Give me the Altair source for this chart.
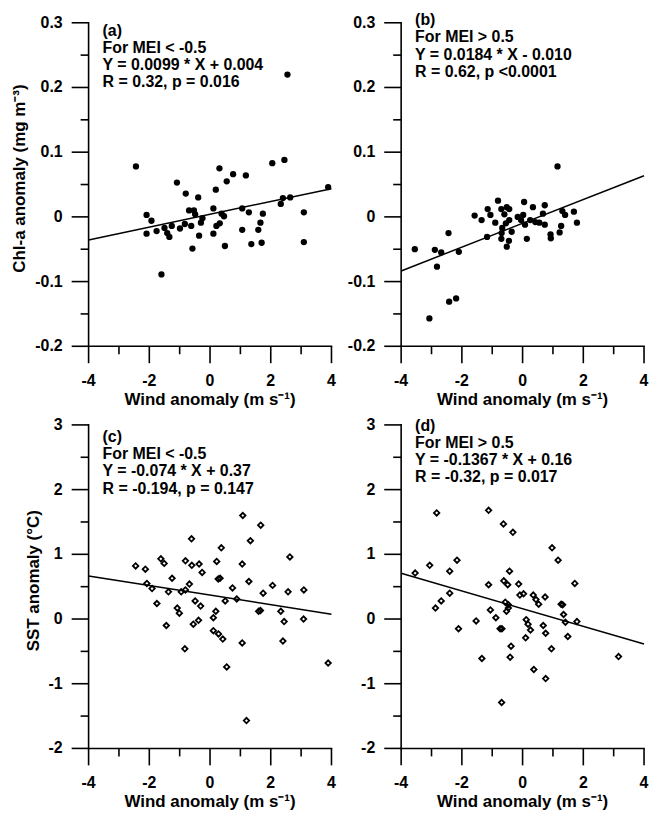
import altair as alt
import pandas as pd

FONT = "Liberation Sans"

# ---------------- data ----------------
a_x = [-2.44, -1.09, -0.80, -0.39, 0.31, 0.76, 0.55, 0.19, 1.18, 2.05, 2.45, 3.89,
       -2.09, -1.93, -2.09, -1.76, -1.50, -1.41, -1.34, -1.26, -1.60, -0.99, -0.83,
       -0.69, -0.53, -0.49, -0.62, -0.36, -0.58, -0.30, -0.25, 0.11, 0.11, 0.21, 0.32,
       0.38, 0.46, 0.49, 1.06, 1.06, 1.28, 1.36, 1.59, 1.66, 1.74, 1.70, 2.33, 2.40,
       2.64, 3.09, 3.09, 2.55]
a_y = [0.078, 0.053, 0.036, 0.030, 0.075, 0.066, 0.055, 0.042, 0.064, 0.083, 0.088, 0.046,
       0.003, -0.006, -0.026, -0.022, -0.017, -0.025, -0.031, -0.014, -0.089, -0.018, -0.011,
       0.010, 0.010, 0.004, -0.014, -0.029, -0.049, -0.009, -0.002, 0.013, -0.026, -0.014, -0.010,
       0.005, 0.001, -0.045, 0.013, -0.020, 0.007, -0.042, -0.020, -0.009, 0.005, -0.040, 0.020, 0.029,
       0.030, 0.007, -0.039, 0.220]

b_x = [1.15, -3.55, -2.89, -2.68, -2.82, -2.44, -2.10, -3.07, -2.42, -2.19, -1.58, -1.35,
       -1.15, -1.06, -0.90, -1.17, -0.81, -0.70, -0.60, -0.52, -0.44, -0.67, -0.69, -0.70,
       -0.52, -0.45, -0.55, -0.44, -0.36, -0.16, -0.05, 0.02, 0.05, 0.08, 0.14, 0.25, 0.34,
       0.42, 0.55, 0.73, 0.67, 0.73, 0.92, 0.93, 1.22, 1.27, 1.31, 1.40, 1.69, 1.79]
b_y = [0.078, -0.050, -0.051, -0.055, -0.077, -0.025, -0.054, -0.157, -0.131, -0.126, 0.002, -0.005,
       0.012, 0.003, -0.009, -0.031, 0.025, 0.012, 0.004, 0.015, 0.012, -0.017, -0.025, -0.034,
       -0.046, -0.037, -0.010, -0.005, -0.023, 0.000, -0.005, 0.003, 0.023, -0.012, -0.034, -0.005, 0.015,
       -0.008, -0.009, 0.018, 0.005, -0.012, -0.027, -0.033, -0.024, -0.014, 0.009, 0.003, 0.008, -0.009]

c_x = [1.08, 1.67, -0.61, 1.33, 0.37, 2.63, -1.62, -1.51, -2.45, -2.13, -0.81, -0.60,
       -0.36, -0.26, 0.22, 1.06, -1.25, 0.27, 0.33, 1.28, -2.08, -1.91, -0.68, -1.37,
       -0.95, -0.81, 0.74, 2.06, 1.75, 2.57, 3.09, -1.75, -1.08, -1.01, -0.49, -0.31,
       0.50, 0.88, 0.19, 0.11, 1.60, 1.66, 2.33, 2.44, 3.08, -1.44, -0.55, -0.38, 0.11,
       0.28, 0.42, 1.06, 2.40, -0.83, 0.55, 3.89, 1.20]
c_y = [1.60, 1.45, 1.24, 1.21, 1.10, 0.96, 0.93, 0.86, 0.82, 0.77, 0.90, 0.83,
       0.85, 0.72, 0.89, 0.85, 0.63, 0.62, 0.63, 0.58, 0.55, 0.47, 0.54, 0.42,
       0.42, 0.45, 0.48, 0.52, 0.40, 0.42, 0.45, 0.24, 0.17, 0.09, 0.28, 0.20,
       0.28, 0.31, 0.12, 0.02, 0.12, 0.13, 0.12, -0.04, 0.00, -0.10, -0.08, -0.02, -0.18,
       -0.23, -0.31, -0.37, -0.34, -0.46, -0.74, -0.68, -1.57]

d_x = [-2.83, -1.12, -0.63, -0.32, 0.97, 1.17, -2.16, -3.06, -2.40, -3.54, -0.43, 1.72,
       -1.12, -0.62, -0.49, -0.13, -2.40, -2.68, -2.87, -0.09, 0.03, 0.35, 0.44, 0.53,
       0.74, 1.27, 1.32, -0.57, -0.47, -0.53, -0.47, -1.06, -0.88, -1.53, -2.11, -0.74,
       -0.68, 0.12, 0.18, 0.26, 0.10, 0.68, 0.76, 1.35, 1.41, 1.49, 1.79, -0.38, -0.41,
       -1.34, 0.95, 0.37, 0.76, -0.69, 3.16]
d_y = [1.64, 1.68, 1.47, 1.34, 1.10, 0.91, 0.91, 0.83, 0.74, 0.71, 0.74, 0.55,
       0.53, 0.59, 0.53, 0.54, 0.40, 0.28, 0.17, 0.37, 0.39, 0.37, 0.30, 0.23,
       0.34, 0.23, 0.22, 0.26, 0.22, 0.12, 0.17, 0.14, 0.02, -0.03, -0.15, -0.15,
       -0.15, -0.01, -0.08, -0.17, -0.29, -0.10, -0.22, 0.07, -0.05, -0.27, -0.04, -0.42, -0.59,
       -0.61, -0.46, -0.78, -0.92, -1.29, -0.58]

# regression lines (endpoints at x = -4 and x = 4, from the printed equations)
line_x = [-4, 4]
a_line_y = [-0.0356, 0.0436]
b_line_y = [-0.0836, 0.0636]
c_line_y = [0.666, 0.074]
d_line_y = [0.7068, -0.3868]

a_text = ["(a)", "For MEI < -0.5", "Y = 0.0099 * X + 0.004", "R = 0.32, p = 0.016"]
b_text = ["(b)", "For MEI > 0.5", "Y = 0.0184 * X - 0.010", "R = 0.62, p <0.0001"]
c_text = ["(c)", "For MEI < -0.5", "Y = -0.074 * X + 0.37", "R = -0.194, p = 0.147"]
d_text = ["(d)", "For MEI > 0.5", "Y = -0.1367 * X + 0.16", "R = -0.32, p = 0.017"]

# axis ticks and tick labels
x_major_ticks = [-4, -2, 0, 2, 4]
x_major_labels = ["-4", "-2", "0", "2", "4"]
x_minor_ticks = [-3, -1, 1, 3]
chl_major = [-0.2, -0.1, 0, 0.1, 0.2, 0.3]
chl_labels = ["-0.2", "-0.1", "0", "0.1", "0.2", "0.3"]
chl_minor = [-0.15, -0.05, 0.05, 0.15, 0.25]
sst_major = [-2, -1, 0, 1, 2, 3]
sst_labels = ["-2", "-1", "0", "1", "2", "3"]
sst_minor = [-1.5, -0.5, 0.5, 1.5, 2.5]

X_TITLE = "Wind anomaly (m s\u207b\u00b9)"
CHL_TITLE = "Chl-a anomaly (mg m\u207b\u00b3)"
SST_TITLE = "SST anomaly (\u00b0C)"

W, H = 244, 325
MAJ, MIN = 17, 8     # tick lengths in pixels
SW = 1.6
XDOM = [-4, 4]


def stroke_sym(length, angle):
    # a straight line segment drawn as a "stroke" symbol of the given pixel length
    return dict(shape="stroke", size=length * length, angle=angle, filled=False,
                strokeWidth=SW, color="black", opacity=1)


def frame_layers(xsc, ysc, ymaj, ymin_ticks):
    one = pd.DataFrame({"k": [0]})
    xaxis = alt.Chart(one).mark_point(**stroke_sym(W + SW, 0)).encode(
        x=alt.value(W / 2), y=alt.value(H))
    yaxis = alt.Chart(one).mark_point(**stroke_sym(H + SW, 90)).encode(
        x=alt.value(0), y=alt.value(H / 2))
    xt_maj = alt.Chart(pd.DataFrame({"v": x_major_ticks})).mark_point(
        **stroke_sym(MAJ, 90)).encode(
        x=alt.X("v:Q", scale=xsc, axis=None), y=alt.value(H + MAJ / 2))
    xt_min = alt.Chart(pd.DataFrame({"v": x_minor_ticks})).mark_point(
        **stroke_sym(MIN, 90)).encode(
        x=alt.X("v:Q", scale=xsc, axis=None), y=alt.value(H + MIN / 2))
    yt_maj = alt.Chart(pd.DataFrame({"v": ymaj})).mark_point(
        **stroke_sym(MAJ, 0)).encode(
        y=alt.Y("v:Q", scale=ysc, axis=None), x=alt.value(-MAJ / 2))
    yt_min = alt.Chart(pd.DataFrame({"v": ymin_ticks})).mark_point(
        **stroke_sym(MIN, 0)).encode(
        y=alt.Y("v:Q", scale=ysc, axis=None), x=alt.value(-MIN / 2))
    return [xaxis, yaxis, xt_maj, xt_min, yt_maj, yt_min]


def panel(xs, ys, lys, lines, text_y, ydomain, ymaj, ylabels, ymin, ytitle, ytitle_x, kind):
    df = pd.DataFrame({"x": xs, "y": ys})
    ldf = pd.DataFrame({"x": line_x, "y": lys})
    tdf = pd.DataFrame({"t": ["\n".join(lines)]})
    xsc = alt.Scale(domain=XDOM, nice=False, zero=False)
    ysc = alt.Scale(domain=ydomain, nice=False, zero=False)

    line = alt.Chart(ldf).mark_line(color="black", strokeWidth=1.5).encode(
        x=alt.X("x:Q", scale=xsc, axis=None),
        y=alt.Y("y:Q", scale=ysc, axis=None),
    )
    if kind == "circle":
        base = alt.Chart(df).mark_circle(size=40, color="black", opacity=1)
    else:
        base = alt.Chart(df).mark_point(shape="diamond", filled=False, size=30,
                                        strokeWidth=1.8, color="black", opacity=1)
    pts = base.encode(
        x=alt.X("x:Q", scale=xsc, axis=None),
        y=alt.Y("y:Q", scale=ysc, axis=None),
    )

    xlab = alt.Chart(pd.DataFrame({"v": x_major_ticks, "t": x_major_labels})).mark_text(
        align="center", baseline="top", font=FONT, fontSize=16, fontWeight="bold",
        color="black",
    ).encode(x=alt.X("v:Q", scale=xsc, axis=None), y=alt.value(H + MAJ + 10), text="t:N")
    ylab = alt.Chart(pd.DataFrame({"v": ymaj, "t": ylabels})).mark_text(
        align="right", baseline="middle", font=FONT, fontSize=16, fontWeight="bold",
        color="black",
    ).encode(y=alt.Y("v:Q", scale=ysc, axis=None), x=alt.value(-MAJ - 9), text="t:N")

    xtitle = alt.Chart(pd.DataFrame({"t": [X_TITLE]})).mark_text(
        align="center", baseline="top", font=FONT, fontSize=17, fontWeight="bold",
        color="black",
    ).encode(x=alt.value(W / 2), y=alt.value(H + MAJ + 10 + 16 + 3), text="t:N")

    txt = alt.Chart(tdf).mark_text(
        align="left", baseline="alphabetic", lineBreak="\n", lineHeight=17.3,
        font=FONT, fontSize=16, fontWeight="bold", color="black",
    ).encode(x=alt.value(14), y=alt.value(text_y), text="t:N")

    layers = [line, pts] + frame_layers(xsc, ysc, ymaj, ymin) + [xlab, ylab, xtitle, txt]
    if ytitle is not None:
        ytl = alt.Chart(pd.DataFrame({"t": [ytitle]})).mark_text(
            align="center", baseline="middle", angle=270, font=FONT, fontSize=17,
            fontWeight="bold", color="black",
        ).encode(x=alt.value(ytitle_x), y=alt.value(H / 2 - 6), text="t:N")
        layers.append(ytl)

    return alt.layer(*layers).properties(width=W, height=H)


pa = panel(a_x, a_y, a_line_y, a_text, 13.1, [-0.2, 0.3], chl_major, chl_labels, chl_minor,
           CHL_TITLE, -69, "circle")
pb = panel(b_x, b_y, b_line_y, b_text, 2.4, [-0.2, 0.3], chl_major, chl_labels, chl_minor,
           None, 0, "circle")
pc = panel(c_x, c_y, c_line_y, c_text, 17.1, [-2, 3], sst_major, sst_labels, sst_minor,
           SST_TITLE, -55, "diamond")
pd_ = panel(d_x, d_y, d_line_y, d_text, 5.7, [-2, 3], sst_major, sst_labels, sst_minor,
            None, 0, "diamond")

chart = alt.concat(
    pa, pb, pc, pd_, columns=2, spacing={"row": 79, "column": 70}, bounds="flush"
).properties(
    padding={"left": 11, "top": 10, "right": 2, "bottom": 2}
).configure_view(stroke=None)

chart.save("out.html", embed_options={"renderer": "svg", "actions": False})
